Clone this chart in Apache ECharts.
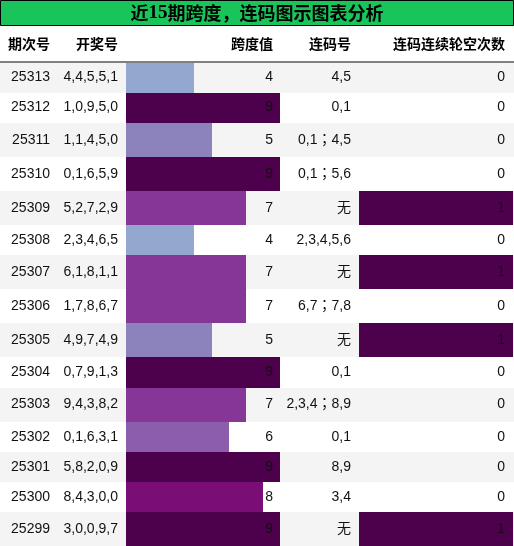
<!DOCTYPE html>
<html><head><meta charset="utf-8">
<script src="https://cdn.jsdelivr.net/npm/echarts@6/dist/echarts.min.js"></script>
<style>html,body{margin:0;padding:0;background:#fff}#c{width:514px;height:546px}</style>
</head><body><div id="c"></div>
<script>
// ---- data ----
const titleText = ['近', '15', '期跨度，连码图示图表分析'];
const headers = ['期次号', '开奖号', '跨度值', '连码号', '连码连续轮空次数'];
const periods = ['25313','25312','25311','25310','25309','25308','25307','25306','25305','25304','25303','25302','25301','25300','25299'];
const draws = ['4,4,5,5,1','1,0,9,5,0','1,1,4,5,0','0,1,6,5,9','5,2,7,2,9','2,3,4,6,5','6,1,8,1,1','1,7,8,6,7','4,9,7,4,9','0,7,9,1,3','9,4,3,8,2','0,1,6,3,1','5,8,2,0,9','8,4,3,0,0','3,0,0,9,7'];
const spans = [4,9,5,9,7,4,7,7,5,9,7,6,9,8,9];
const lianma = ['4,5','0,1','0,1；4,5','0,1；5,6','无','2,3,4,5,6','无','6,7；7,8','无','0,1','2,3,4；8,9','0,1','8,9','3,4','无'];
const gaps = [0,0,0,0,1,0,1,0,1,0,0,0,0,0,1];
const spanMax = 9;
const gapMax = 1;
const bupu = ['#f7fcfd','#e0ecf4','#bfd3e6','#9ebcda','#8c96c6','#8c6bb1','#88419d','#810f7c','#4d004b'];

// ---- layout ----
const W = 514, TOP = 62.5;
const FONT = '"Liberation Sans", "Noto Sans CJK TC", sans-serif';
const colRight = [50, 118, 273, 351, 505];
// rows holding CJK glyphs are taller (line height of the CJK font)
const rowH = lianma.map(s => /[\u3000-\u9fff\uff00-\uffef]/.test(s) ? 34 : 30);
const rowStart = [];
let acc = 0;
rowH.forEach(h => { rowStart.push(acc); acc += h; });
const TOTAL = acc;

const rowData = periods.map((p, i) => [i, rowStart[i], rowStart[i] + rowH[i]]);
const spanData = spans.map((v, i) => [v, rowStart[i], rowStart[i] + rowH[i]]);
const gapData = gaps.map((v, i) => [v, rowStart[i], rowStart[i] + rowH[i]]);

function rectFrom(p0, p1) {
  const x0 = Math.round(p0[0]), y0 = Math.round(p0[1]);
  const x1 = Math.round(p1[0]), y1 = Math.round(p1[1]);
  return { x: x0, y: y0, width: x1 - x0, height: y1 - y0 };
}
function barItem(params, api) {
  const v = api.value(0);
  if (!v) return null;
  return { type: 'rect', shape: rectFrom(api.coord([0, api.value(1)]), api.coord([v, api.value(2)])),
    style: { fill: api.visual('color') } };
}

const chart = echarts.init(document.getElementById('c'), null, { renderer: 'canvas' });
const yAx = (gi) => ({ type: 'value', gridIndex: gi, min: 0, max: TOTAL, inverse: true, show: false });
chart.setOption({
  animation: false,
  backgroundColor: '#fff',
  title: {
    text: '{a|' + titleText[0] + '}{b|' + titleText[1] + '}{a|' + titleText[2] + '}',
    left: 'center', top: 1, padding: 0,
    textStyle: {
      rich: {
        a: { fontSize: 18, fontWeight: 'bold', fontFamily: '"Noto Sans CJK SC"', color: '#000', lineHeight: 24 },
        b: { fontSize: 19, fontWeight: 'bold', fontFamily: '"Liberation Serif"', color: '#000', lineHeight: 24 }
      }
    }
  },
  graphic: [
    { type: 'rect', z: -1, shape: { x: 0.5, y: 0.5, width: W - 1, height: 25 },
      style: { fill: '#19c55a', stroke: '#000', lineWidth: 1 } },
    { type: 'line', z: 10, shape: { x1: 0, y1: 62, x2: W, y2: 62 }, style: { stroke: '#000', lineWidth: 1 } }
  ].concat(headers.map((h, k) => ({
    type: 'text', z: 10,
    style: { text: h, x: colRight[k], y: 44, align: 'right', verticalAlign: 'middle',
      fontSize: 14, fontWeight: 'bold', fontFamily: '"Noto Sans CJK SC"', fill: '#000' }
  }))),
  grid: [
    { left: 0, width: W, top: TOP, bottom: 0 },
    { left: 126, width: 154, top: TOP, bottom: 0 },
    { left: 359, width: 154, top: TOP, bottom: 0 }
  ],
  xAxis: [
    { type: 'value', gridIndex: 0, min: 0, max: W, show: false },
    { type: 'value', gridIndex: 1, min: 0, max: spanMax, show: false },
    { type: 'value', gridIndex: 2, min: 0, max: gapMax, show: false }
  ],
  yAxis: [yAx(0), yAx(1), yAx(2)],
  visualMap: [
    { type: 'continuous', show: false, seriesIndex: 1, dimension: 0, min: 0, max: spanMax, inRange: { color: bupu } },
    { type: 'continuous', show: false, seriesIndex: 2, dimension: 0, min: 0, max: gapMax, inRange: { color: [bupu[0], bupu[8]] } }
  ],
  series: [
    { type: 'custom', xAxisIndex: 0, yAxisIndex: 0, z: 1, data: rowData, silent: true,
      renderItem: (params, api) => {
        const i = api.value(0);
        return { type: 'rect', shape: rectFrom(api.coord([0, api.value(1)]), api.coord([W, api.value(2)])),
          style: { fill: i % 2 === 0 ? '#f4f4f4' : '#ffffff' } };
      } },
    { type: 'custom', xAxisIndex: 1, yAxisIndex: 1, z: 2, data: spanData, renderItem: barItem },
    { type: 'custom', xAxisIndex: 2, yAxisIndex: 2, z: 2, data: gapData, renderItem: barItem },
    { type: 'custom', xAxisIndex: 0, yAxisIndex: 0, z: 3, data: rowData, silent: true,
      renderItem: (params, api) => {
        const i = api.value(0);
        const yc = (api.value(1) + api.value(2)) / 2;
        const texts = [periods[i], draws[i], String(spans[i]), lianma[i], String(gaps[i])];
        return { type: 'group', children: texts.map((t, k) => {
          const p = api.coord([colRight[k], yc]);
          return { type: 'text', style: { text: t, x: p[0], y: p[1], align: 'right', verticalAlign: 'middle',
            fontSize: 14, fontFamily: FONT, fill: '#111' } };
        }) };
      } }
  ]
});
</script></body></html>
